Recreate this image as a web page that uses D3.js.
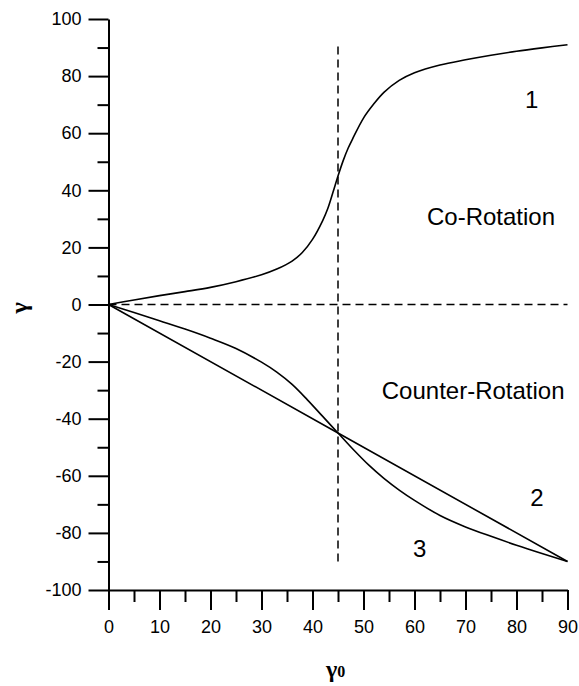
<!DOCTYPE html>
<html>
<head>
<meta charset="utf-8">
<script src="https://cdn.jsdelivr.net/npm/d3@7"></script>
<style>
  body { margin: 0; background: #fff; }
  svg text { font-family: "Liberation Sans", Arial, sans-serif; fill: #000; }
  .axis path, .axis line { stroke: #000; stroke-width: 2; }
  .axis text { font-size: 18px; font-family: "Liberation Sans", Arial, sans-serif; }
  .curve { fill: none; stroke: #000; stroke-width: 1.6; }
  .guide { fill: none; stroke: #000; stroke-width: 1.5; stroke-dasharray: 8,5; }
</style>
</head>
<body>
<svg width="579" height="686"></svg>
<script>
// ticks
const xTicks = [0, 10, 20, 30, 40, 50, 60, 70, 80, 90];
const xMinor = [5, 15, 25, 35, 45, 55, 65, 75, 85];
const yTicks = [-100, -80, -60, -40, -20, 0, 20, 40, 60, 80, 100];
const yMinor = [-90, -70, -50, -30, -10, 10, 30, 50, 70, 90];

// curve 1 (co-rotation)
const curve1X = [0, 5, 10, 15, 20, 25, 30, 33, 36, 38, 40, 42, 43, 44, 45, 46, 47, 48, 50, 52, 54, 57, 60, 65, 70, 75, 80, 85, 90];
const curve1Y = [0, 1.6, 3.1, 4.5, 6.0, 8.0, 10.4, 12.4, 15.2, 18.2, 22.8, 29.4, 33.6, 39.2, 45, 50.3, 54.8, 58.5, 65.3, 70.2, 74.3, 78.5, 81.2, 83.9, 85.7, 87.3, 88.7, 89.9, 91];
// curve 2 (straight)
const curve2X = [0, 45, 90];
const curve2Y = [0, -45, -90];
// curve 3
const curve3X = [0, 5, 10, 15, 20, 25, 30, 33, 36, 39, 42, 45, 48, 51, 54, 57, 60, 65, 70, 75, 80, 85, 90];
const curve3Y = [0, -2.8, -5.7, -8.6, -11.8, -15.4, -20.2, -23.7, -28.0, -33.4, -39.2, -45, -50.8, -56.2, -60.9, -65.0, -68.6, -73.9, -77.9, -81.2, -84.3, -87.2, -90];

// dashed guides
const hGuideX = [0, 90], hGuideY = [0, 0];
const vGuideX = [45, 45], vGuideY = [-90, 91];

const labels = [
  { text: "1", x: 83, y: 69 },
  { text: "Co-Rotation", x: 75, y: 28 },
  { text: "Counter-Rotation", x: 71.5, y: -33 },
  { text: "2", x: 84, y: -70.5 },
  { text: "3", x: 61, y: -88.5 }
];

const svg = d3.select("svg");
const x = d3.scaleLinear().domain([0, 90]).range([108.5, 567.5]);
const y = d3.scaleLinear().domain([-100, 100]).range([590, 19]);

const zip = (xs, ys) => xs.map((v, i) => [v, ys[i]]);
const line = d3.line().x(d => x(d[0])).y(d => y(d[1]));
const smooth = d3.line().x(d => x(d[0])).y(d => y(d[1])).curve(d3.curveCatmullRom.alpha(0.5));

// guides
svg.append("path").attr("class", "guide").attr("d", line(zip(hGuideX, hGuideY)));
svg.append("path").attr("class", "guide").attr("d", line(zip(vGuideX, vGuideY)));

// curves
svg.append("path").attr("class", "curve").attr("d", smooth(zip(curve1X, curve1Y)));
svg.append("path").attr("class", "curve").attr("d", line(zip(curve2X, curve2Y)));
svg.append("path").attr("class", "curve").attr("d", smooth(zip(curve3X, curve3Y)));

// axes (plain hyphen for negatives, like the original)
const fmt = d => String(d);
const yAxis = svg.append("g").attr("class", "axis").attr("transform", `translate(${x(0)},0)`);
yAxis.call(d3.axisLeft(y).tickValues(yTicks).tickFormat(fmt).tickSize(20).tickSizeOuter(0).tickPadding(7));
yAxis.append("g").call(d3.axisLeft(y).tickValues(yMinor).tickSize(11).tickFormat(""))
  .select(".domain").remove();

const xAxis = svg.append("g").attr("class", "axis").attr("transform", `translate(0,${y(-100)})`);
xAxis.call(d3.axisBottom(x).tickValues(xTicks).tickFormat(fmt).tickSize(20).tickSizeOuter(0).tickPadding(10));
xAxis.append("g").call(d3.axisBottom(x).tickValues(xMinor).tickSize(12).tickFormat(""))
  .select(".domain").remove();

// annotations
svg.selectAll(".note").data(labels).enter().append("text")
  .attr("class", "note")
  .attr("x", d => x(d.x)).attr("y", d => y(d.y))
  .attr("text-anchor", "middle")
  .attr("font-size", 24)
  .text(d => d.text);

// axis titles
svg.append("text")
  .attr("transform", "translate(27,308) rotate(-90)")
  .attr("text-anchor", "middle")
  .style("font-family", "Liberation Serif, Times New Roman, serif")
  .attr("font-weight", "bold")
  .attr("font-size", 24)
  .text("γ");

const xt = svg.append("text")
  .attr("x", 326).attr("y", 677)
  .style("font-family", "Liberation Serif, Times New Roman, serif")
  .attr("font-weight", "bold")
  .attr("font-size", 24);
xt.append("tspan").text("γ");
xt.append("tspan").attr("font-size", 16).text("0");
</script>
</body>
</html>
